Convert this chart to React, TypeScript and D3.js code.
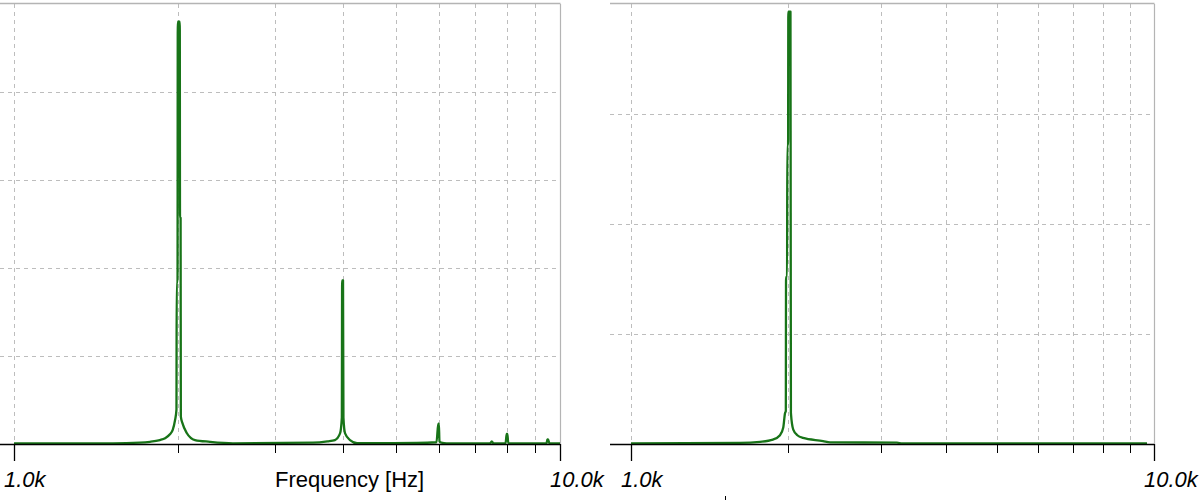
import React from 'react';
import * as d3 from 'd3';

// Left spectrum (frequency in Hz, amplitude in grid units)
const leftFreq = [1000, 1518, 1700, 1775, 1850, 1891, 1930, 1953, 1972, 1984, 1986, 1993, 1995, 2012, 2014, 2019, 2021, 2034, 2072, 2145, 2285, 2518,
  3528, 3750, 3871, 3955, 3985, 3990, 4005, 4012, 4040, 4125, 4249,
  5470, 5940, 5985, 6000, 6015, 6060, 6200, 7450, 7500, 7550, 7950, 7985, 8010, 8040, 9450, 9480, 9510, 9560, 10000];
const leftAmp = [0.008, 0.008, 0.015, 0.025, 0.045, 0.065, 0.11, 0.16, 0.27, 0.39, 1.84, 1.84, 4.8, 4.8, 2.57, 2.57, 0.31, 0.24, 0.125, 0.045, 0.025, 0.008,
  0.015, 0.03, 0.045, 0.12, 0.3, 1.86, 1.86, 0.3, 0.12, 0.045, 0.01,
  0.012, 0.02, 0.23, 0.23, 0.03, 0.015, 0.008, 0.008, 0.03, 0.008, 0.01, 0.114, 0.114, 0.01, 0.008, 0.053, 0.053, 0.01, 0.008];

// Right spectrum
const rightFreq = [1000, 1616, 1765, 1868, 1927, 1955, 1970, 1977, 1979, 1988, 1990, 1997, 1999, 2018, 2020, 2022, 2043, 2080, 2132, 2329, 2402, 3225, 3300, 9696];
const rightAmp = [0.006, 0.01, 0.02, 0.04, 0.08, 0.15, 0.28, 0.3, 1.52, 1.52, 2.72, 2.72, 3.93, 3.93, 2.1, 0.28, 0.13, 0.08, 0.055, 0.027, 0.015, 0.012, 0.005, 0.005];

const majorTicks = [1000, 10000];
const majorLabels = ['1.0k', '10.0k'];
const minorTicks = [2000, 3000, 4000, 5000, 6000, 7000, 8000, 9000];
const xTitle = 'Frequency [Hz]';
const leftYMax = 5;
const rightYMax = 4;

const FONT = '"Liberation Sans", Arial, sans-serif';
const GREEN = '#187418';
const GRID = '#bdbdbd';

type PanelProps = {
  axisStart: number;
  r0: number;
  r1: number;
  yMax: number;
  freq: number[];
  amp: number[];
  title?: boolean;
};

function Panel({ axisStart, r0, r1, yMax, freq, amp, title }: PanelProps) {
  const x = d3.scaleLog().domain([1000, 10000]).range([r0, r1]);
  const y = d3.scaleLinear().domain([0, yMax]).range([444, 4]);
  const pts: [number, number][] = freq.map((f, i) => [f, amp[i]]);
  const line = d3.line<[number, number]>().x(d => x(d[0])).y(d => y(d[1])).curve(d3.curveMonotoneX);
  const gridY = d3.range(1, yMax);
  return (
    <g>
      {gridY.map(v => (
        <line key={'h' + v} x1={axisStart} x2={r1} y1={y(v) + 0.5} y2={y(v) + 0.5} stroke={GRID} strokeDasharray="4,4" />
      ))}
      {[majorTicks[0], ...minorTicks].map(f => (
        <line key={'v' + f} x1={Math.round(x(f)) + 0.5} x2={Math.round(x(f)) + 0.5} y1={y(yMax)} y2={444} stroke={GRID} strokeDasharray="4,4" />
      ))}
      <line x1={axisStart} x2={r1 + 0.5} y1={y(yMax) - 0.5} y2={y(yMax) - 0.5} stroke="#b4b4b4" strokeWidth={1.5} />
      <line x1={Math.round(r1) + 0.5} x2={Math.round(r1) + 0.5} y1={y(yMax)} y2={444} stroke="#b4b4b4" strokeWidth={1.2} />
      <path d={line(pts) || ''} fill="none" stroke={GREEN} strokeWidth={2.3} strokeLinejoin="round" />
      <line x1={axisStart} x2={r1} y1={444.5} y2={444.5} stroke="#000" strokeWidth={1.3} />
      {minorTicks.map(f => (
        <line key={'t' + f} x1={Math.round(x(f)) + 0.5} x2={Math.round(x(f)) + 0.5} y1={444} y2={453} stroke="#000" />
      ))}
      {majorTicks.map((f, i) => (
        <g key={'m' + f}>
          <line x1={Math.round(x(f)) + 0.5} x2={Math.round(x(f)) + 0.5} y1={444} y2={461} stroke="#000" strokeWidth={1.3} />
          <text x={x(f) - 10} y={487} fontFamily={FONT} fontSize={22} fontStyle="italic" fill="#000">{majorLabels[i]}</text>
        </g>
      ))}
      {title && (
        <text x={275} y={487} fontFamily={FONT} fontSize={22} fill="#000">{xTitle}</text>
      )}
    </g>
  );
}

export default function App() {
  return (
    <svg width={1201} height={500} style={{ position: 'absolute', left: 0, top: 0, background: '#fff' }}>
      <rect x={0} y={0} width={1201} height={500} fill="#fff" />
      <Panel axisStart={0} r0={14} r1={560} yMax={leftYMax} freq={leftFreq} amp={leftAmp} title />
      <Panel axisStart={610} r0={631} r1={1154} yMax={rightYMax} freq={rightFreq} amp={rightAmp} />
      <line x1={725.5} x2={725.5} y1={496} y2={500} stroke="#000" />
    </svg>
  );
}
